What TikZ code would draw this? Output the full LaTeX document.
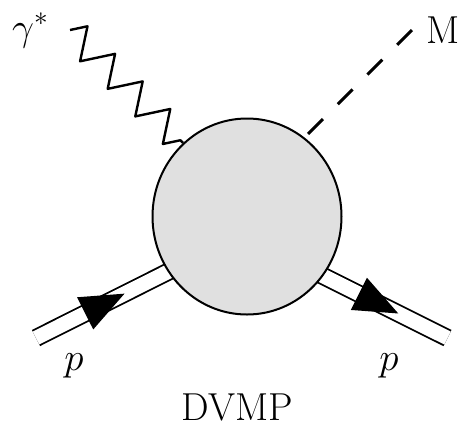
\RequirePackage{fix-cm}
\documentclass[tikz,border=0pt]{standalone}
\usetikzlibrary{shapes.geometric,decorations.pathmorphing,decorations.markings,backgrounds}
\definecolor{blobgray}{RGB}{224,224,224}

\begin{document}
\begin{tikzpicture}[
  x=1pt, y=-1pt,
  font=\fontsize{39}{44}\selectfont,
  blob/.style={draw, ellipse, line width=2pt, fill=blobgray,
               minimum width=189pt, minimum height=196pt, inner sep=0pt},
  photon/.style={decorate, decoration={zigzag, segment length=39pt, amplitude=15pt},
                 line width=2.4pt, line join=round},
  meson/.style={line width=3pt, dash pattern=on 21pt off 21pt},
  proton/.style={double, double distance=14.5pt, line width=1.8pt},
  fwdarrow/.style={postaction={decorate, decoration={markings,
      mark=at position #1 with {\fill (0pt,0pt) -- (-44pt,18pt) -- (-44pt,-18pt) -- cycle;}}}},
  backarrow/.style={postaction={decorate, decoration={markings,
      mark=at position #1 with {\fill (0pt,0pt) -- (44pt,18pt) -- (44pt,-18pt) -- cycle;}}}},
  lbl/.style={inner sep=0pt},
]
\useasboundingbox (0,0) rectangle (460,429);

% ---- the blob ----
\node[blob] (blob) at (247,216.5) {};

% ---- free ends ----
\coordinate (gin)  at (70,30);
\coordinate (mout) at (413,29);
\coordinate (pin)  at (36,338);
\coordinate (pout) at (447.5,338);

% ---- proton lines (under the blob) ----
\begin{scope}[on background layer]
  \draw[proton, fwdarrow=99pt, shorten >=-12pt] (pin) -- (blob.215);
  \draw[proton, backarrow=55pt, shorten >=-12pt] (pout) -- (blob.322);
\end{scope}

% ---- photon and meson ----
\draw[photon] (gin) -- (blob.131);
\draw[meson, shorten <=5pt] (blob.54) -- (mout);

% ---- labels ----
\node[lbl, anchor=base west] (lgamma) at (12,40) {$\gamma^*$};
\node[lbl, anchor=base west] (lM) at (426,43) {M};
\node[lbl, anchor=base] (lpin) at (74,370) {$p$};
\node[lbl, anchor=base] (lpout) at (389,370) {$p$};
\node[lbl, anchor=base] (ldvmp) at (237.5,420) {DVMP};
\end{tikzpicture}
\end{document}
